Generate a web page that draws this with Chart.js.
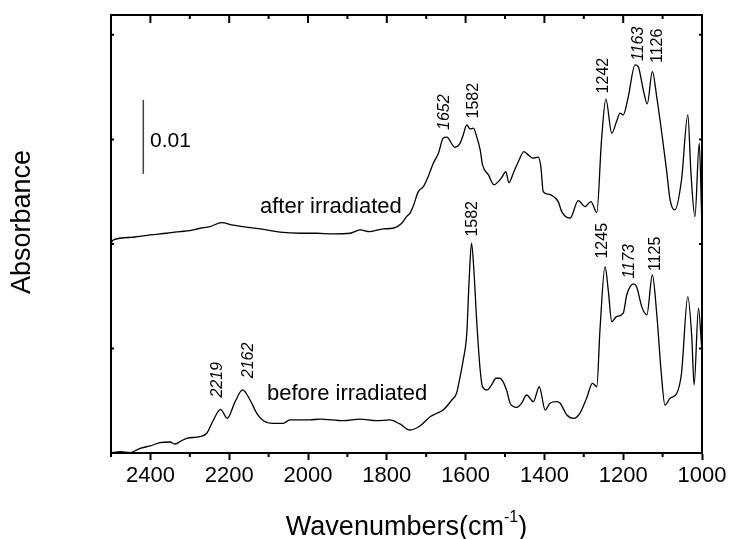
<!DOCTYPE html>
<html>
<head>
<meta charset="utf-8">
<script src="https://cdn.jsdelivr.net/npm/chart.js@4.4.1/dist/chart.umd.min.js"></script>
<style>
    html, body { margin: 0; padding: 0; background: #fff; }
    #wrap { width: 730px; height: 539px; position: relative; }
</style>
</head>
<body>
<div id="wrap"><canvas id="spectra"></canvas></div>
<script>
// spectrum after irradiation (upper trace), wavenumber / absorbance (offset, a.u.)
const afterWn = [2500,2494,2444,2401,2359,2325,2300,2274,2249,2219,2190,2147,2105,2071,2020,1978,1936,1893,1868,1843,
    1809,1784,1762,1750,1741,1733,1720,1707,1695,1682,1669,1657,1648,1627,1614,1606,1597,1589,1580,1572,
    1563,1557,1542,1528,1517,1508,1498,1490,1479,1466,1452,1441,1428,1416,1409,1403,1390,1377,1365,1356,
    1335,1314,1297,1282,1267,1255,1244,1229,1217,1208,1200,1187,1170,1162,1149,1139,1126,1115,1102,1090,
    1081,1069,1052,1036,1028,1018,1007,1001];
const afterAbs = [2.007,2.038,2.064,2.086,2.102,2.118,2.127,2.150,2.166,2.204,2.179,2.156,2.134,2.112,2.102,2.102,2.096,2.102,2.134,2.118,
    2.144,2.150,2.198,2.261,2.294,2.36,2.500,2.548,2.644,2.772,2.868,3.011,3.021,2.925,2.964,3.043,3.139,3.100,3.107,3.027,
    2.900,2.756,2.660,2.565,2.596,2.638,2.692,2.587,2.677,2.788,2.883,2.852,2.820,2.830,2.740,2.500,2.476,2.453,2.405,2.309,
    2.246,2.414,2.357,2.405,2.300,2.995,3.385,3.059,3.170,3.251,3.234,3.410,3.713,3.697,3.474,3.340,3.649,3.410,3.059,2.708,
    2.421,2.325,2.612,3.234,2.677,2.261,2.964,2.278];

// spectrum before irradiation (lower trace)
const beforeWn = [2500,2477,2452,2426,2401,2376,2350,2338,2325,2308,2274,2257,2240,2222,2205,2185,2166,2147,2130,2113,
    2088,2063,2046,1995,1970,1910,1868,1826,1792,1767,1741,1716,1690,1673,1657,1635,1623,1614,1606,1597,
    1591,1585,1579,1572,1563,1557,1545,1534,1523,1513,1496,1487,1470,1458,1445,1428,1413,1398,1386,1369,
    1360,1343,1326,1310,1293,1278,1267,1259,1246,1238,1229,1217,1200,1191,1174,1166,1153,1140,1126,1115,
    1104,1094,1081,1064,1052,1036,1026,1020,1009,1001];
const beforeAbs = [0.003,0.012,0.003,0.045,0.067,0.099,0.105,0.086,0.108,0.141,0.156,0.189,0.316,0.418,0.332,0.491,0.603,0.507,0.380,0.309,
    0.284,0.284,0.316,0.316,0.325,0.309,0.325,0.309,0.316,0.278,0.220,0.258,0.347,0.380,0.411,0.507,0.571,0.730,0.890,1.145,
    1.656,2.007,1.751,1.273,0.794,0.634,0.603,0.651,0.715,0.715,0.603,0.476,0.437,0.476,0.555,0.491,0.634,0.411,0.476,0.491,
    0.476,0.364,0.332,0.380,0.523,0.667,0.634,1.177,1.783,1.560,1.256,1.304,1.337,1.512,1.617,1.591,1.400,1.321,1.703,1.337,
    0.794,0.459,0.523,0.571,0.763,1.496,1.113,0.651,1.385,1.017];

// peak labels (rotated), anchored at their lower end
const peakText   = ['1652','1582','1242','1163','1126','1582','1245','1173','1125','2219','2162'];
const peakWn     = [1654, 1580, 1249, 1160, 1113, 1582, 1252, 1184, 1118, 2230, 2150];
const peakAbs    = [3.09, 3.20, 3.44, 3.75, 3.73, 2.07, 1.86, 1.67, 1.74, 0.53, 0.715];
const peakItalic = [true, false, false, true, false, false, false, true, false, true, true];

// trace names
const traceText = ['after irradiated', 'before irradiated'];
const traceWn   = [2122, 2104];
const traceAbs  = [2.297, 0.507];

// 0.01 absorbance scale bar
const barWn  = [2418, 2418];
const barAbs = [2.67, 3.378];

const FONT = '"Liberation Sans", Arial, sans-serif';

function toPoints(xs, ys) {
    return xs.map((x, i) => ({ x: x, y: ys[i] }));
}

const decorations = {
    id: 'decorations',
    afterDraw(chart) {
        const ctx = chart.ctx;
        const xs = chart.scales.x, ys = chart.scales.y;
        const a = chart.chartArea;
        ctx.save();
        ctx.strokeStyle = '#000';
        ctx.fillStyle = '#000';
        ctx.lineWidth = 2;
        ctx.strokeRect(a.left, a.top, a.right - a.left, a.bottom - a.top);

        // minor ticks on bottom, all ticks on top (inward)
        ctx.beginPath();
        for (let w = 1000; w <= 2500; w += 100) {
            const px = xs.getPixelForValue(w);
            const major = w % 200 === 0;
            ctx.moveTo(px, a.top);
            ctx.lineTo(px, a.top + (major ? 8 : 4));
            if (!major) {
                ctx.moveTo(px, a.bottom);
                ctx.lineTo(px, a.bottom + 4);
            }
        }
        // tiny y ticks both sides
        for (let v = 1; v <= 4; v++) {
            const py = ys.getPixelForValue(v);
            ctx.moveTo(a.left, py); ctx.lineTo(a.left + 3, py);
            ctx.moveTo(a.right, py); ctx.lineTo(a.right - 3, py);
        }
        ctx.stroke();

        // peak labels
        ctx.textAlign = 'left';
        ctx.textBaseline = 'middle';
        peakText.forEach((t, i) => {
            ctx.save();
            ctx.translate(xs.getPixelForValue(peakWn[i]), ys.getPixelForValue(peakAbs[i]));
            ctx.rotate(-Math.PI / 2);
            ctx.font = (peakItalic[i] ? 'italic ' : '') + '16px ' + FONT;
            ctx.fillText(t, 0, 0);
            ctx.restore();
        });

        // trace names
        ctx.textBaseline = 'alphabetic';
        ctx.font = '22px ' + FONT;
        traceText.forEach((t, i) => {
            ctx.fillText(t, xs.getPixelForValue(traceWn[i]), ys.getPixelForValue(traceAbs[i]));
        });

        // scale bar label
        ctx.font = '21px ' + FONT;
        ctx.fillText('0.01', xs.getPixelForValue(2401), ys.getPixelForValue(2.928));

        // x title with superscript
        const big = '27px ' + FONT, small = '16px ' + FONT;
        ctx.font = big;
        const w1 = ctx.measureText('Wavenumbers(cm').width;
        const w3 = ctx.measureText(')').width;
        ctx.font = small;
        const w2 = ctx.measureText('-1').width;
        let x0 = (a.left + a.right) / 2 - (w1 + w2 + w3) / 2;
        const base = a.bottom + 82;
        ctx.font = big;
        ctx.fillText('Wavenumbers(cm', x0, base);
        ctx.font = small;
        ctx.fillText('-1', x0 + w1, base - 13);
        ctx.font = big;
        ctx.fillText(')', x0 + w1 + w2, base);

        // y title
        ctx.save();
        ctx.translate(23, (a.top + a.bottom) / 2 - 12);
        ctx.rotate(-Math.PI / 2);
        ctx.textAlign = 'center';
        ctx.textBaseline = 'middle';
        ctx.font = big;
        ctx.fillText('Absorbance', 0, 0);
        ctx.restore();

        ctx.restore();
    }
};

new Chart(document.getElementById('spectra'), {
    type: 'line',
    data: {
        datasets: [
            { label: 'after irradiated', data: toPoints(afterWn, afterAbs), borderColor: '#000', borderWidth: 1.3,
              pointRadius: 0, cubicInterpolationMode: 'monotone', fill: false },
            { label: 'before irradiated', data: toPoints(beforeWn, beforeAbs), borderColor: '#000', borderWidth: 1.3,
              pointRadius: 0, cubicInterpolationMode: 'monotone', fill: false },
            { label: 'scale', data: toPoints(barWn, barAbs), borderColor: '#444', borderWidth: 1.5, pointRadius: 0 }
        ]
    },
    options: {
        responsive: true,
        maintainAspectRatio: false,
        animation: false,
        devicePixelRatio: 1,
        layout: { padding: { left: 111, right: 28, top: 15, bottom: 0 } },
        plugins: { legend: { display: false }, tooltip: { enabled: false } },
        scales: {
            x: {
                type: 'linear', reverse: true, min: 1000, max: 2500,
                afterFit: s => { s.height = 86; },
                ticks: { stepSize: 200, includeBounds: false, autoSkip: false, maxRotation: 0, padding: 3,
                         color: '#000', font: { family: FONT, size: 22 },
                         callback: v => String(v) },
                grid: { drawOnChartArea: false, drawTicks: true, tickLength: 7, tickColor: '#000', tickWidth: 2 },
                border: { display: true, color: '#000', width: 2 }
            },
            y: { display: false, min: 0, max: 4.19 }
        }
    },
    plugins: [decorations]
});
</script>
</body>
</html>
